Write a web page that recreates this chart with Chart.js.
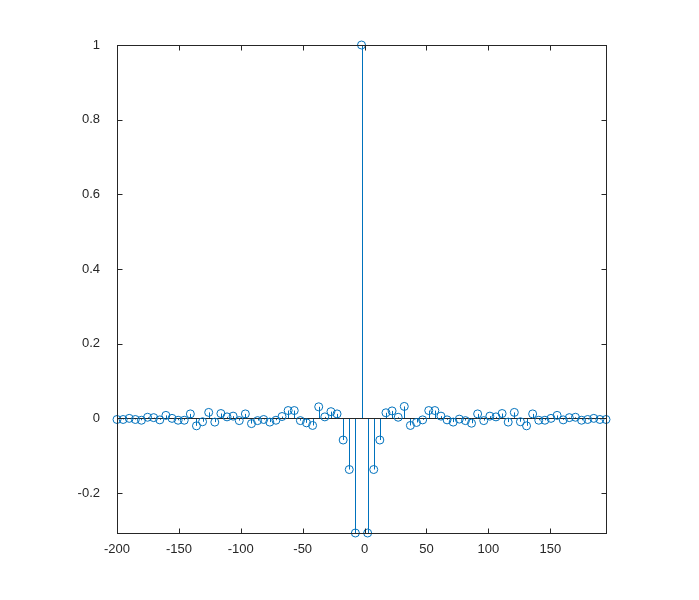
<!DOCTYPE html>
<html>
<head>
<meta charset="utf-8">
<script src="https://cdn.jsdelivr.net/npm/chart.js@4"></script>
<style>
  html, body { margin: 0; padding: 0; background: #ffffff; }
  #wrap { width: 699px; height: 600px; }
</style>
</head>
<body>
<div id="wrap"><canvas id="myChart" width="699" height="600"></canvas></div>
<script>
// sample positions: 81 lags from -200 to 195
let xStart = -200;
let xStep = 4.9375;

let yValues = [
  -0.003, -0.003, 0, -0.003, -0.005, 0.003, 0.002, -0.004, 0.008, 0,
  -0.005, -0.005, 0.012, -0.02, -0.009, 0.016, -0.01, 0.013, 0.004, 0.006,
  -0.006, 0.012, -0.014, -0.006, -0.003, -0.01, -0.005, 0.005, 0.021, 0.021,
  -0.006, -0.012, -0.019, 0.031, 0.004, 0.018, 0.012, -0.058, -0.137, -0.307,
  1,
  -0.307, -0.137, -0.058, 0.015, 0.02, 0.003, 0.032, -0.019, -0.011, -0.004,
  0.021, 0.021, 0.006, -0.004, -0.01, -0.002, -0.006, -0.013, 0.012, -0.006,
  0.006, 0.004, 0.013, -0.01, 0.016, -0.009, -0.02, 0.012, -0.005, -0.005,
  0, 0.008, -0.004, 0.002, 0.003, -0.005, -0.003, 0, -0.003, -0.003
];

let xTicks = [-200, -150, -100, -50, 0, 50, 100, 150];
let yTicks = [-0.2, 0, 0.2, 0.4, 0.6, 0.8, 1];

let points = [];
for (let i = 0; i < yValues.length; i++) {
    points.push({ x: xStart + i * xStep, y: yValues[i] });
}

let stemColor = '#0072BD';
let axisColor = '#262626';

// stems, baseline, box and inward ticks like a matlab stem plot
let stemPlugin = {
    id: 'stems',
    beforeDatasetsDraw(chart) {
        let ctx = chart.ctx;
        let xs = chart.scales.x;
        let ys = chart.scales.y;
        let area = chart.chartArea;
        let y0 = ys.getPixelForValue(0);
        ctx.save();
        ctx.strokeStyle = stemColor;
        ctx.lineWidth = 1;
        points.forEach(function(p) {
            let px = Math.round(xs.getPixelForValue(p.x)) + 0.5;
            ctx.beginPath();
            ctx.moveTo(px, y0);
            ctx.lineTo(px, ys.getPixelForValue(p.y));
            ctx.stroke();
        });
        ctx.strokeStyle = axisColor;
        ctx.beginPath();
        ctx.moveTo(area.left, Math.round(y0) + 0.5);
        ctx.lineTo(area.right, Math.round(y0) + 0.5);
        ctx.stroke();
        ctx.restore();
    },
    afterDatasetsDraw(chart) {
        let ctx = chart.ctx;
        let xs = chart.scales.x;
        let ys = chart.scales.y;
        let a = chart.chartArea;
        let t = 5;
        ctx.save();
        ctx.strokeStyle = axisColor;
        ctx.lineWidth = 1;
        let l = Math.round(a.left) + 0.5, r = Math.round(a.right) + 0.5;
        let tp = Math.round(a.top) + 0.5, b = Math.round(a.bottom) + 0.5;
        ctx.strokeRect(l, tp, r - l, b - tp);
        ctx.beginPath();
        xTicks.forEach(function(v) {
            let px = Math.round(xs.getPixelForValue(v)) + 0.5;
            ctx.moveTo(px, b); ctx.lineTo(px, b - t);
            ctx.moveTo(px, tp); ctx.lineTo(px, tp + t);
        });
        yTicks.forEach(function(v) {
            let py = Math.round(ys.getPixelForValue(v)) + 0.5;
            ctx.moveTo(l, py); ctx.lineTo(l + t, py);
            ctx.moveTo(r, py); ctx.lineTo(r - t, py);
        });
        ctx.stroke();
        ctx.restore();
    }
};

let ctx = document.getElementById('myChart').getContext('2d');
let chart = new Chart(ctx, {
    type: 'scatter',
    data: {
        datasets: [{
            data: points,
            borderColor: stemColor,
            backgroundColor: 'rgba(0,0,0,0)',
            borderWidth: 1,
            pointRadius: 4,
            pointHoverRadius: 4,
            showLine: false,
            clip: false
        }]
    },
    options: {
        responsive: false,
        animation: false,
        events: [],
        layout: { padding: { left: 0, right: 93, top: 45, bottom: 0 } },
        plugins: {
            legend: { display: false },
            tooltip: { enabled: false }
        },
        scales: {
            x: {
                type: 'linear',
                min: xStart,
                max: xStart + (yValues.length - 1) * xStep,
                grid: { display: false },
                border: { display: false },
                afterBuildTicks: function(scale) {
                    scale.ticks = xTicks.map(function(v) { return { value: v }; });
                },
                afterFit: function(scale) { scale.height = 67; },
                ticks: {
                    color: axisColor,
                    padding: 1,
                    maxRotation: 0,
                    font: { family: 'Arial, "Liberation Sans", sans-serif', size: 13 }
                }
            },
            y: {
                min: Math.min.apply(null, yValues),
                max: 1,
                grid: { display: false },
                border: { display: false },
                afterBuildTicks: function(scale) {
                    scale.ticks = yTicks.map(function(v) { return { value: v }; });
                },
                afterFit: function(scale) { scale.width = 117; },
                ticks: {
                    color: axisColor,
                    padding: 9,
                    font: { family: 'Arial, "Liberation Sans", sans-serif', size: 13 },
                    callback: function(v) { return String(Math.round(v * 10) / 10); }
                }
            }
        }
    },
    plugins: [stemPlugin]
});
</script>
</body>
</html>
